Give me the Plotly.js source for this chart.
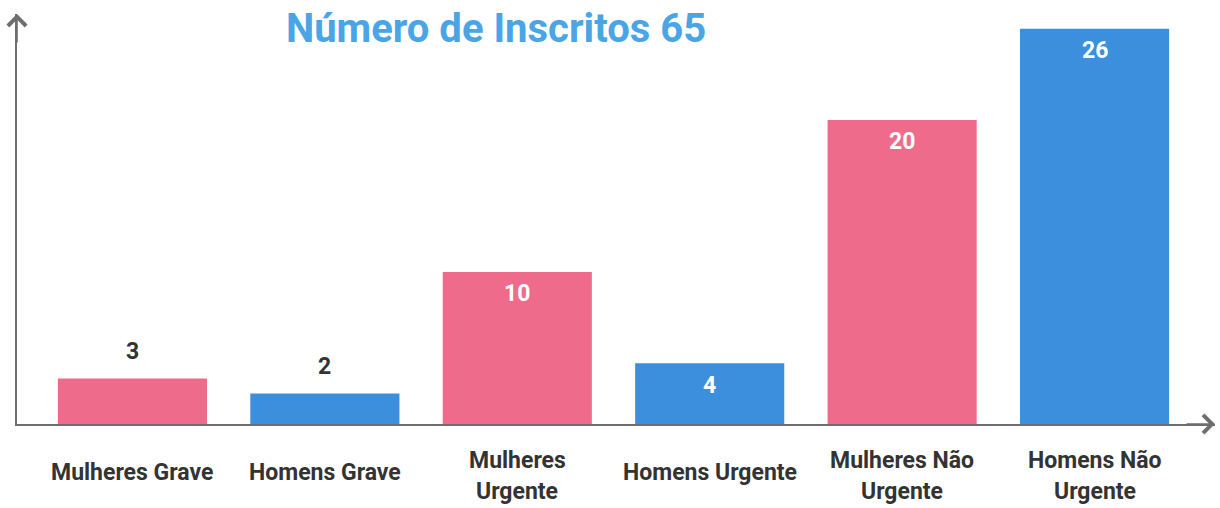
<!DOCTYPE html>
<html>
<head>
<meta charset="utf-8">
<script src="https://cdn.plot.ly/plotly-3.0.1.min.js"></script>
<style>html,body{margin:0;padding:0;background:#fff;}#chart{width:1220px;height:508px;}</style>
</head>
<body>
<div id="chart"></div>
<script>
var categories = ["Mulheres Grave", "Homens Grave", "Mulheres Urgente", "Homens Urgente", "Mulheres Não Urgente", "Homens Não Urgente"];
var tickLabels = [["Mulheres Grave"], ["Homens Grave"], ["Mulheres", "Urgente"], ["Homens Urgente"], ["Mulheres Não", "Urgente"], ["Homens Não", "Urgente"]];
var values = [3, 2, 10, 4, 20, 26];
var labelInside = [false, false, true, true, true, true];
var barColors = ["#ee6b8b", "#3b8fdd", "#ee6b8b", "#3b8fdd", "#ee6b8b", "#3b8fdd"];
var titleText = "Número de Inscritos 65";

var annotations = [];
values.forEach(function (v, i) {
  annotations.push({
    x: categories[i], y: v, xref: "x", yref: "y",
    text: String(v), showarrow: false,
    yanchor: "middle", xanchor: "center",
    yshift: labelInside[i] ? -22 : 27,
    font: {family: "Roboto", size: 23, weight: "bold", color: labelInside[i] ? "#ffffff" : "#333333"}
  });
});
tickLabels.forEach(function (lines, i) {
  var shifts = lines.length === 1 ? [-48] : [-36, -67];
  lines.forEach(function (line, k) {
    annotations.push({
      x: categories[i], y: 0, xref: "x", yref: "paper",
      text: line, showarrow: false, yanchor: "middle", xanchor: "center",
      yshift: shifts[k],
      font: {family: "Roboto", size: 23, weight: "bold", color: "#333333"}
    });
  });
});
// axis arrowheads
annotations.push({x: 0, y: 1, xref: "paper", yref: "paper", text: "", showarrow: true,
  ax: 0, ay: 30, arrowhead: 4, arrowsize: 2.2, arrowwidth: 1.6, arrowcolor: "#6e6e6e"});
annotations.push({x: 1, y: 0, xref: "paper", yref: "paper", text: "", showarrow: true,
  ax: -30, ay: 0, arrowhead: 4, arrowsize: 2.2, arrowwidth: 1.6, arrowcolor: "#6e6e6e"});

var data = [{
  type: "bar",
  x: categories,
  y: values,
  marker: {color: barColors},
  hoverinfo: "none"
}];

var layout = {
  width: 1220, height: 508,
  margin: {l: 17, r: 5, t: 14, b: 84},
  paper_bgcolor: "#ffffff", plot_bgcolor: "#ffffff",
  showlegend: false,
  bargap: 0.225,
  title: {
    text: titleText,
    font: {family: "Roboto", size: 40, weight: "bold", color: "#4aa5e6"},
    xref: "container", yref: "container",
    x: 0.4066, xanchor: "center", y: 0.944, yanchor: "middle"
  },
  xaxis: {
    type: "category", range: [-0.6, 5.626],
    showticklabels: false, ticks: "", showgrid: false, zeroline: false,
    showline: true, linecolor: "#6e6e6e", linewidth: 2, layer: "below traces",
    fixedrange: true
  },
  yaxis: {
    range: [0, 26.97],
    showticklabels: false, ticks: "", showgrid: false, zeroline: false,
    showline: true, linecolor: "#6e6e6e", linewidth: 2, layer: "below traces",
    fixedrange: true
  },
  annotations: annotations
};

Plotly.newPlot("chart", data, layout, {displayModeBar: false, staticPlot: true});
</script>
</body>
</html>
